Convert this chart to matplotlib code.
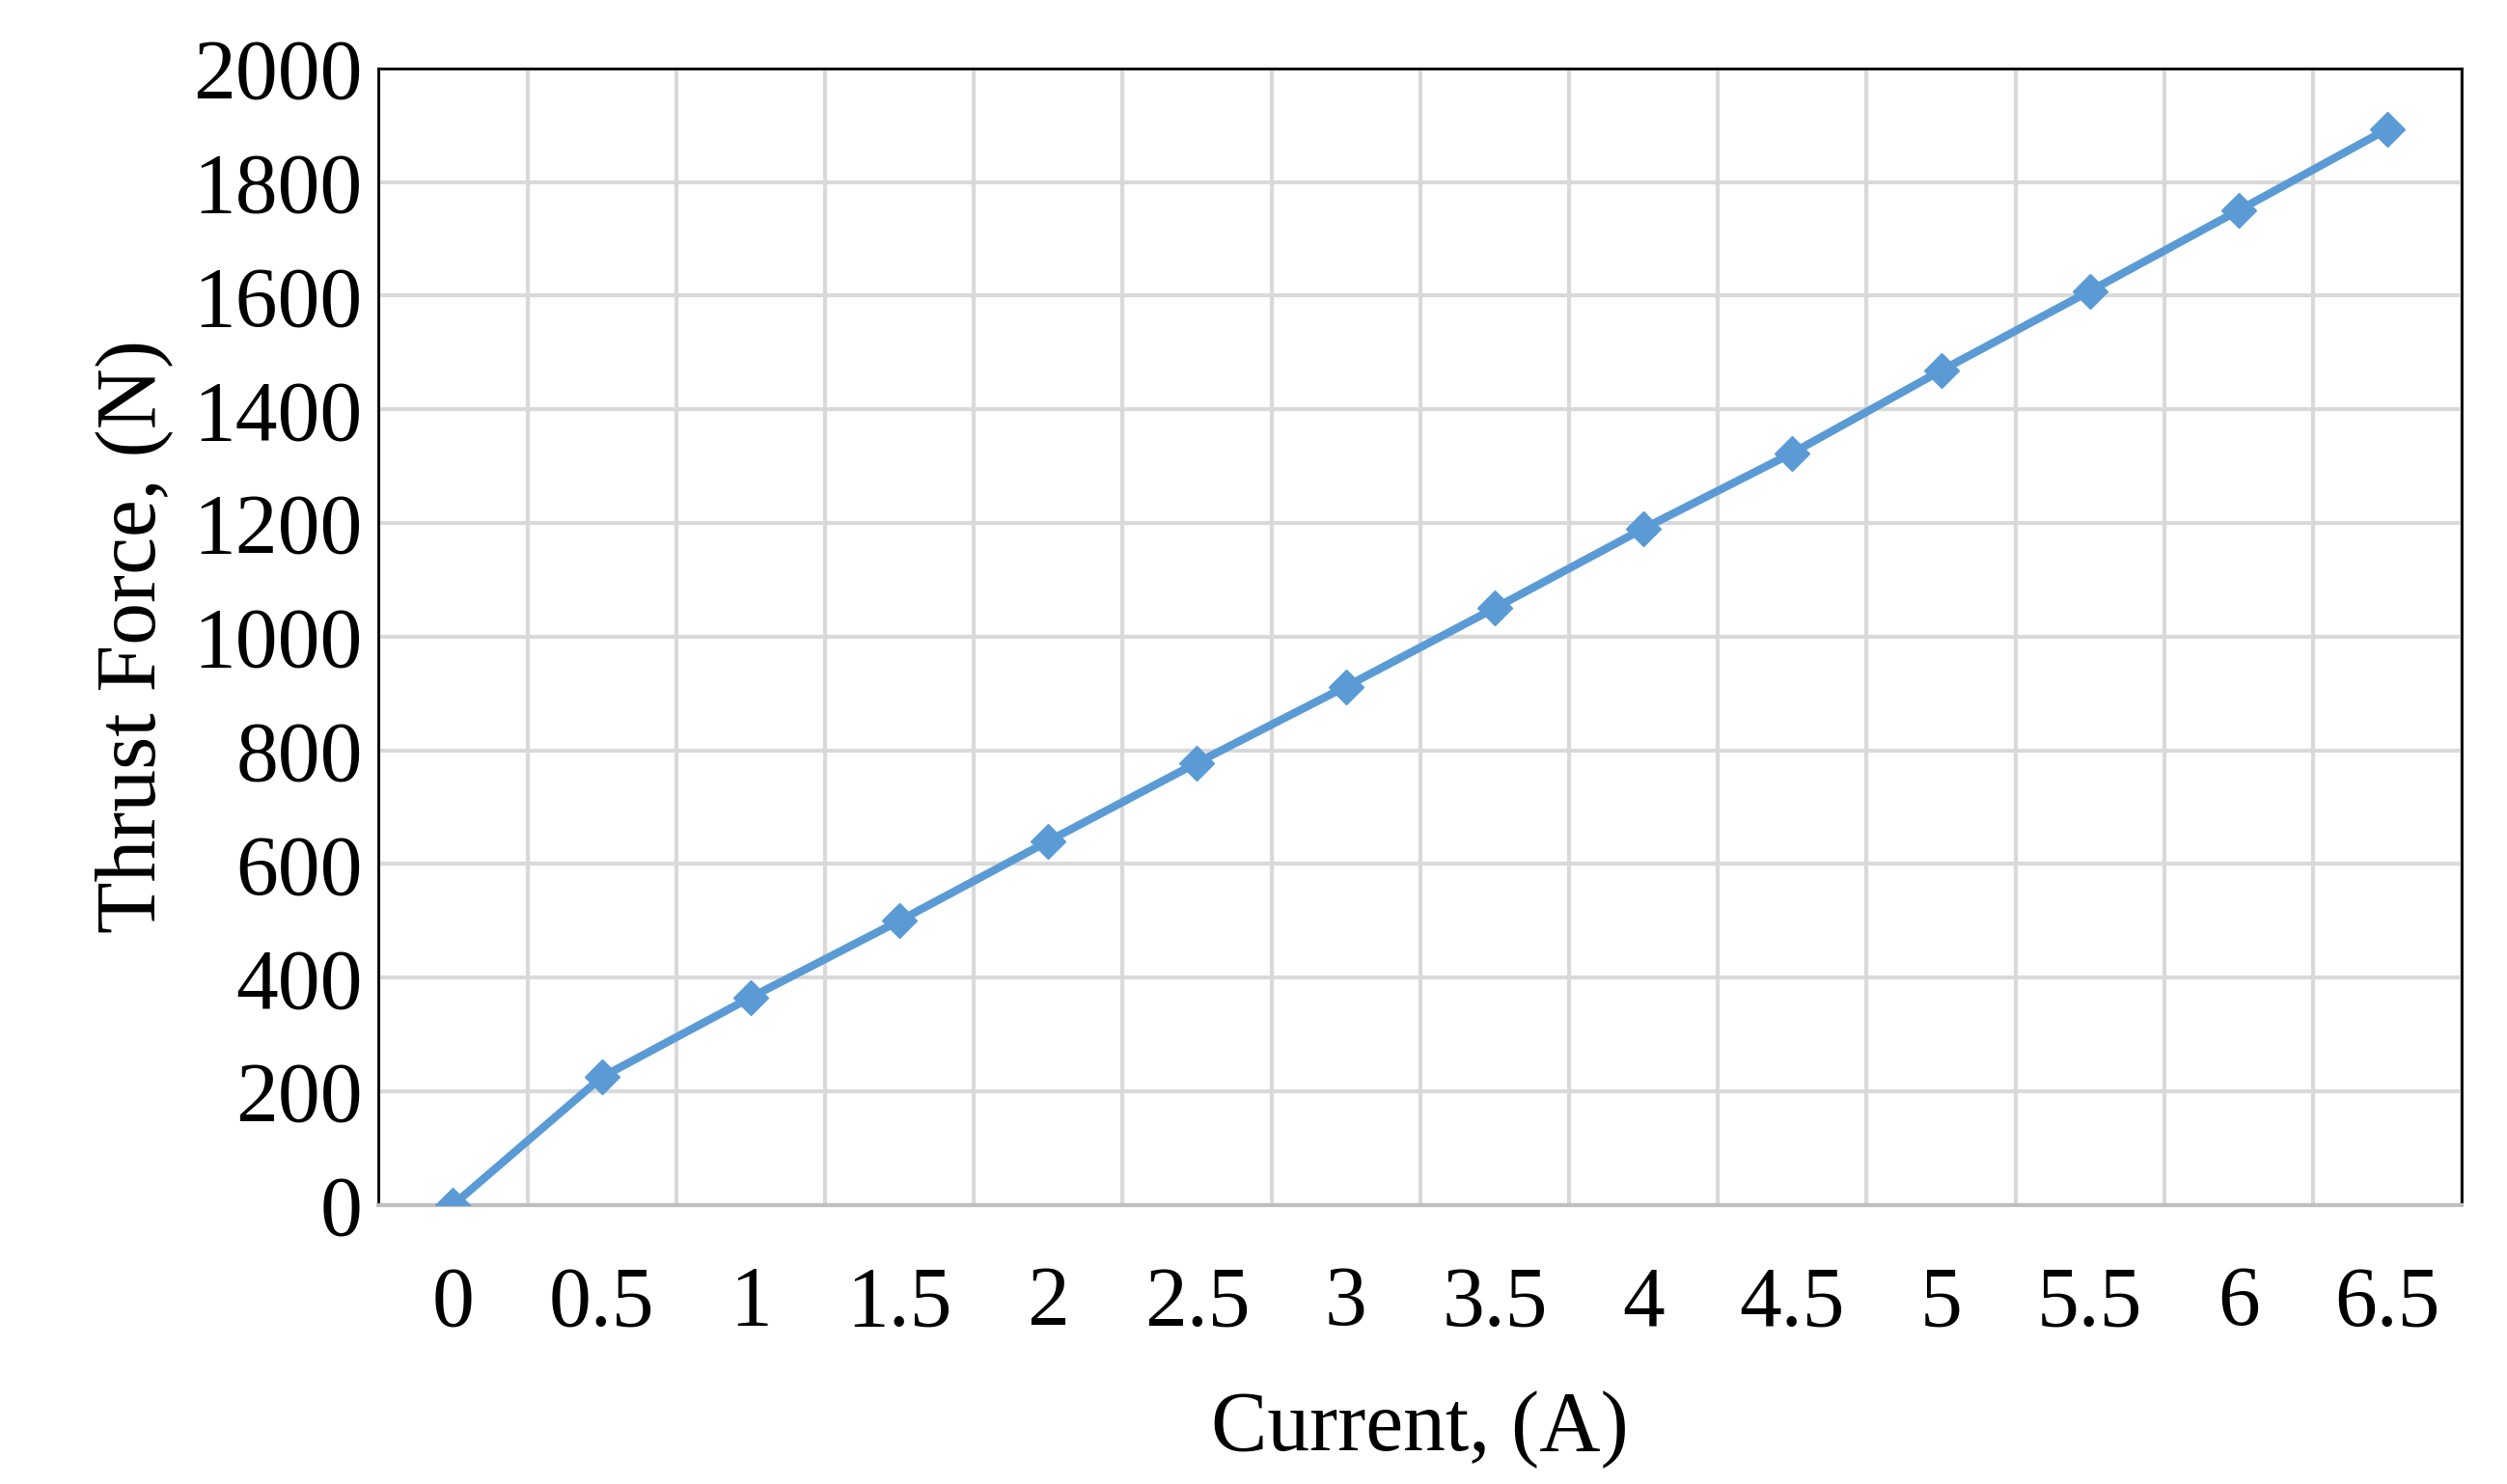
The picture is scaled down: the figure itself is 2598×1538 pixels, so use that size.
import matplotlib
matplotlib.use("Agg")
import matplotlib.pyplot as plt
import numpy as np

categories = ["0","0.5","1","1.5","2","2.5","3","3.5","4","4.5","5","5.5","6","6.5"]
thrust = [0, 225, 365, 500, 640, 778, 912, 1050, 1190, 1323, 1468, 1608, 1750, 1893]

plt.rcParams['font.family'] = ['Liberation Serif', 'DejaVu Serif']
fig = plt.figure(figsize=(25.98, 15.38), dpi=100)
ax = fig.add_axes([0.151, 0.188, 0.831, 0.766])
x = np.arange(len(categories))
ax.plot(x, thrust, color='#5B9BD5', lw=6, marker='D', ms=18, zorder=3)
ax.set_xlim(-0.5, len(categories) - 0.5)
ax.set_ylim(0, 2000)
ax.set_yticks(np.arange(0, 2001, 200))
ax.set_xticks(x)
ax.set_xticklabels(categories)
ax.set_xticks(np.arange(-0.5, len(categories)), minor=True)
ax.grid(True, which='minor', axis='x', color='#D9D9D9', lw=3)
ax.grid(True, which='major', axis='y', color='#D9D9D9', lw=3)
ax.tick_params(axis='x', which='both', length=0, pad=45, labelsize=63)
ax.tick_params(axis='y', length=0, pad=12, labelsize=63)
for s in ['top', 'right', 'left']:
    ax.spines[s].set_color('black'); ax.spines[s].set_linewidth(2)
ax.spines['bottom'].set_color('#BFBFBF'); ax.spines['bottom'].set_linewidth(3)
ax.set_xlabel('Current, (A)', fontsize=63, labelpad=35)
ax.set_ylabel('Thrust Force, (N)', fontsize=63, labelpad=15)
fig.savefig('out.png', dpi=100)
